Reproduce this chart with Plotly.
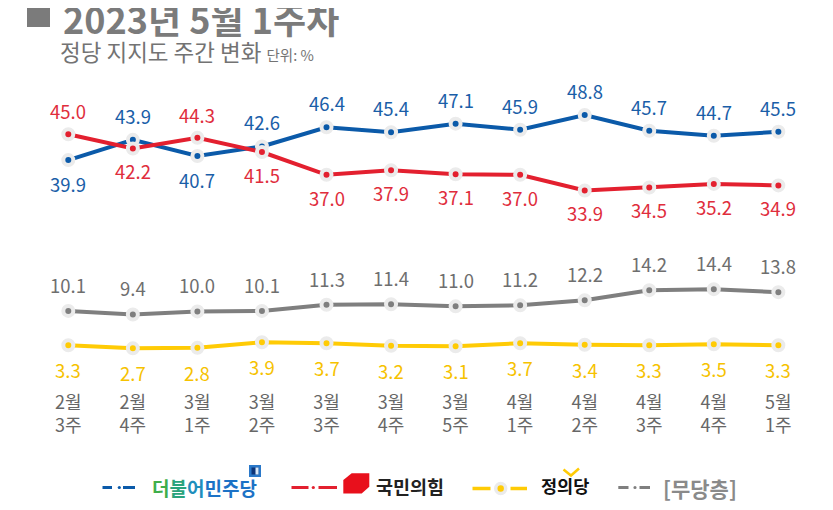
import plotly.graph_objects as go

# ---------------- data ----------------
weeks = ["2월<br>3주", "2월<br>4주", "3월<br>1주", "3월<br>2주", "3월<br>3주", "3월<br>4주",
         "3월<br>5주", "4월<br>1주", "4월<br>2주", "4월<br>3주", "4월<br>4주", "5월<br>1주"]
minjoo = [39.9, 43.9, 40.7, 42.6, 46.4, 45.4, 47.1, 45.9, 48.8, 45.7, 44.7, 45.5]
ppp = [45.0, 42.2, 44.3, 41.5, 37.0, 37.9, 37.1, 37.0, 33.9, 34.5, 35.2, 34.9]
justice = [3.3, 2.7, 2.8, 3.9, 3.7, 3.2, 3.1, 3.7, 3.4, 3.3, 3.5, 3.3]
nonpartisan = [10.1, 9.4, 10.0, 10.1, 11.3, 11.4, 11.0, 11.2, 12.2, 14.2, 14.4, 13.8]

# ---------------- styles ----------------
W, H = 833, 510
OFF = 8  # page body margin of the html page
T_M = 60 - OFF
PLOT_BOTTOM = 385 - OFF
B_M = H - PLOT_BOTTOM
PLOT_H = H - T_M - B_M
FONT = "Noto Sans CJK KR"

BLUE, BLUE_T = "#0b5aa9", "#1a5ea8"
RED, RED_T = "#e3202f", "#e02d3c"
YEL, YEL_T = "#ffcb05", "#f6c200"
GRAY, GRAY_T = "#7f7f7f", "#6e6e6e"
HALO = "#ebebeb"


def px(x):
    return (x - OFF) / W


def py(p):
    return (PLOT_BOTTOM - (p - OFF)) / PLOT_H


x = list(range(len(weeks)))

fig = go.Figure()


def add_series(vals, color):
    fig.add_trace(go.Scatter(
        x=x, y=vals, mode="lines+markers",
        line=dict(color=color, width=4),
        marker=dict(size=10, color=color, line=dict(color=HALO, width=4)),
        cliponaxis=False, showlegend=False, hoverinfo="skip"))


add_series(nonpartisan, GRAY)
add_series(justice, YEL)
add_series(minjoo, BLUE)
add_series(ppp, RED)

annotations = []


def add_labels(vals, other, color, off, default_up):
    for i, v in enumerate(vals):
        if other is None:
            up = default_up
        else:
            up = v >= other[i]
        annotations.append(dict(
            x=i, y=v, xref="x", yref="y", text=f"{v:.1f}", showarrow=False,
            yshift=off if up else -off, yanchor="middle", xanchor="center",
            font=dict(family=FONT, size=18.5, color=color)))


add_labels(minjoo, ppp, BLUE_T, 24, True)
add_labels(ppp, minjoo, RED_T, 23, True)
add_labels(nonpartisan, None, GRAY_T, 26, True)
add_labels(justice, None, YEL_T, 25, False)

# ---------------- title ----------------
shapes = [dict(type="rect", xref="paper", yref="paper", x0=px(27), x1=px(50), y0=py(27), y1=py(7),
               fillcolor="#7b7b7b", line=dict(width=0))]
annotations.append(dict(x=px(61), y=py(18), xref="paper", yref="paper", xanchor="left", yanchor="middle",
                        text="<b>2023년 5월 1주차</b>", showarrow=False,
                        font=dict(family=FONT, size=36, color="#7b7b7b")))
annotations.append(dict(x=px(58), y=py(50.5), xref="paper", yref="paper", xanchor="left", yanchor="middle",
                        text="정당 지지도 주간 변화 <span style='font-size:14.5px'>단위: %</span>", showarrow=False,
                        font=dict(family=FONT, size=22.5, color="#737373")))

# ---------------- legend (manual) ----------------
def dash(x0, x1, y, color, w=3):
    shapes.append(dict(type="line", xref="paper", yref="paper", x0=px(x0), x1=px(x1), y0=py(y), y1=py(y),
                       line=dict(color=color, width=w)))


def dot(cx, cy, r, color):
    shapes.append(dict(type="circle", xref="paper", yref="paper", x0=px(cx - r), x1=px(cx + r),
                       y0=py(cy + r), y1=py(cy - r), fillcolor=color, line=dict(width=0)))


LY = 487.5
# blue
dash(102.5, 112, LY, BLUE)
dot(119.3, LY, 1.6, BLUE)
dash(123, 135, LY, BLUE)
annotations.append(dict(x=px(150), y=py(LY), xref="paper", yref="paper", xanchor="left", yanchor="middle",
                        showarrow=False,
                        text="<b><span style='color:#3fae4a'>더</span><span style='color:#2aa37c'>불</span>"
                             "<span style='color:#1f8fbd'>어</span><span style='color:#1c72c6'>민주당</span></b>",
                        font=dict(family=FONT, size=19, color="#1c72c6")))
shapes.append(dict(type="rect", xref="paper", yref="paper", x0=px(249), x1=px(261), y0=py(477), y1=py(465),
                   fillcolor="#2a78c9", line=dict(width=0)))
shapes.append(dict(type="rect", xref="paper", yref="paper", x0=px(251.5), x1=px(258.5), y0=py(474.5), y1=py(467.5),
                   fillcolor="#0d3478", line=dict(width=0)))
shapes.append(dict(type="rect", xref="paper", yref="paper", x0=px(255.5), x1=px(258.5), y0=py(474.5), y1=py(467.5),
                   fillcolor="#d8e8f8", line=dict(width=0)))
# red
dash(291.5, 308.5, LY, RED)
dot(313.3, LY, 1.6, RED)
dash(318.5, 337, LY, RED)
pts = [(351.7, 473.3), (369.3, 473.3), (369.3, 486.7), (361.7, 493.5), (343.3, 493.5), (343.3, 480)]
path = "M " + " L ".join(f"{px(a):.5f},{py(b):.5f}" for a, b in pts) + " Z"
shapes.append(dict(type="path", xref="paper", yref="paper", path=path, fillcolor="#e8101c", line=dict(width=0)))
annotations.append(dict(x=px(374), y=py(LY - 2), xref="paper", yref="paper", xanchor="left", yanchor="middle",
                        showarrow=False, text="<b>국민의힘</b>",
                        font=dict(family=FONT, size=18.5, color="#222222")))
# yellow
dash(472.5, 490.5, LY + 1, YEL, 3.5)
dot(500.7, LY + 1, 6.7, HALO)
dot(500.7, LY + 1, 3.2, YEL)
dash(510.5, 527, LY + 1, YEL, 3.5)
annotations.append(dict(x=px(539), y=py(LY - 2), xref="paper", yref="paper", xanchor="left", yanchor="middle",
                        showarrow=False, text="<b>정의당</b>",
                        font=dict(family=FONT, size=17.5, color="#111111")))
shapes.append(dict(type="path", xref="paper", yref="paper",
                   path=f"M {px(563.5)},{py(469.5)} L {px(571)},{py(475.5)} L {px(579)},{py(468.5)}",
                   line=dict(color=YEL, width=2.5)))
# gray
dash(618.3, 628.5, LY, GRAY)
dot(635, LY, 1.6, GRAY)
dash(639.5, 650, LY, GRAY)
annotations.append(dict(x=px(661), y=py(LY), xref="paper", yref="paper", xanchor="left", yanchor="middle",
                        showarrow=False, text="<b>[무당층]</b>",
                        font=dict(family=FONT, size=21, color="#8a8a8a")))

# ---------------- layout ----------------
SP = 64.55
X0 = 68.3 - OFF
fig.update_layout(
    width=W, height=H,
    margin=dict(l=0, r=0, t=T_M, b=B_M),
    paper_bgcolor="white", plot_bgcolor="white",
    xaxis=dict(range=[-X0 / SP, (W - X0) / SP], tickvals=x, ticktext=weeks, showgrid=False,
               zeroline=False, showline=False, ticks="outside", ticklen=1, tickcolor="rgba(0,0,0,0)",
               fixedrange=True,
               tickfont=dict(family=FONT, size=18, color="#676767")),
    yaxis=dict(range=[(362 - 385) / 5.06, (362 - 60) / 5.06], showgrid=False, zeroline=False,
               showticklabels=False, showline=False, fixedrange=True),
    shapes=shapes, annotations=annotations,
    showlegend=False,
)

fig.write_html("out.html")
